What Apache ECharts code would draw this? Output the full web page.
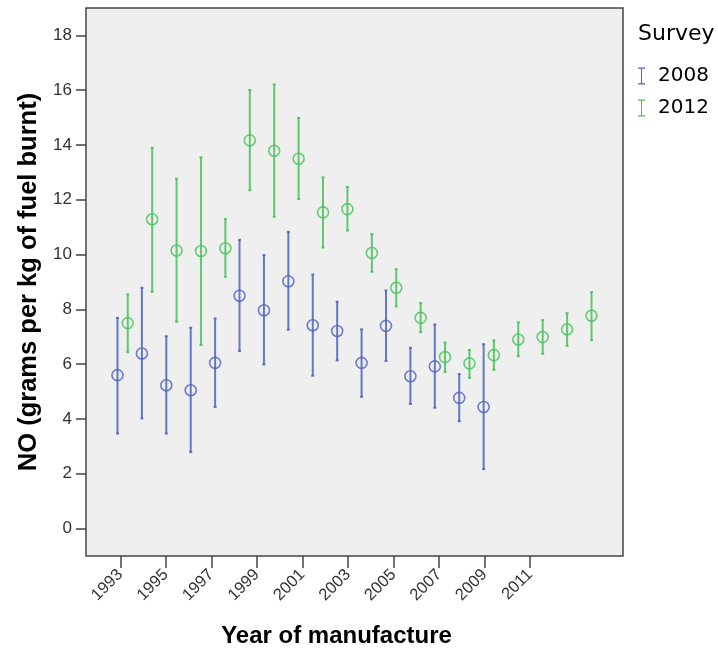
<!DOCTYPE html>
<html>
<head>
<meta charset="utf-8">
<script src="https://cdn.jsdelivr.net/npm/echarts@6/dist/echarts.min.js"></script>
<style>html,body{margin:0;padding:0;background:#fff;}#chart{width:718px;height:653px;}</style>
</head>
<body>
<div id="chart"></div>
<script>
// ---- data ----
const years2008 = [1993,1994,1995,1996,1997,1998,1999,2000,2001,2002,2003,2004,2005,2006,2007,2008];
const mean2008  = [5.60,6.39,5.23,5.05,6.05,8.50,7.97,9.03,7.42,7.21,6.05,7.40,5.56,5.92,4.77,4.44];
const low2008   = [3.47,4.02,3.47,2.79,4.44,6.48,5.99,7.26,5.58,6.14,4.81,6.12,4.55,4.41,3.92,2.17];
const high2008  = [7.69,8.79,7.02,7.33,7.67,10.54,9.98,10.83,9.27,8.28,7.27,8.69,6.60,7.45,5.64,6.73];

const years2012 = [1993,1994,1995,1996,1997,1998,1999,2000,2001,2002,2003,2004,2005,2006,2007,2008,2009,2010,2011,2012];
const mean2012  = [7.50,11.29,10.15,10.13,10.23,14.17,13.79,13.50,11.54,11.66,10.06,8.79,7.69,6.26,6.03,6.33,6.90,6.99,7.27,7.77];
const low2012   = [6.44,8.64,7.55,6.70,9.19,12.35,11.38,12.03,10.26,10.88,9.37,8.11,7.17,5.72,5.50,5.79,6.29,6.38,6.67,6.88];
const high2012  = [8.55,13.90,12.77,13.55,11.30,16.01,16.21,14.99,12.82,12.47,10.75,9.47,8.23,6.79,6.52,6.87,7.53,7.61,7.86,8.63];

const xTickLabels = [1993,1995,1997,1999,2001,2003,2005,2007,2009,2011];
const yTickLabels = [0,2,4,6,8,10,12,14,16,18];
const seriesNames = ['2008','2012'];

// ---- styling ----
const BLUE = '#4b63be';
const GREEN = '#45c256';
const DODGE = 0.21;

function pts(years, means, off) { return years.map((y, i) => [y + off, means[i]]); }
function bars(years, lo, hi, off) { return years.map((y, i) => [y + off, lo[i], hi[i]]); }

function renderErr(params, api) {
  const x = api.value(0);
  const p1 = api.coord([x, api.value(1)]);
  const p2 = api.coord([x, api.value(2)]);
  const c = api.visual('color');
  const st = { stroke: c, lineWidth: 2, opacity: 0.85 };
  return {
    type: 'group',
    children: [
      { type: 'line', shape: { x1: p1[0], y1: p1[1], x2: p2[0], y2: p2[1] }, style: st },
      { type: 'line', shape: { x1: p1[0] - 1.5, y1: p1[1], x2: p1[0] + 1.5, y2: p1[1] }, style: st },
      { type: 'line', shape: { x1: p2[0] - 1.5, y1: p2[1], x2: p2[0] + 1.5, y2: p2[1] }, style: st }
    ]
  };
}

const chart = echarts.init(document.getElementById('chart'), null, { renderer: 'canvas' });
const font = '"Liberation Sans", Arial, sans-serif';
const legendIcon = 'path://M0,0H7V1.2H4V15.8H7V17H0V15.8H3V1.2H0Z';

chart.setOption({
  animation: false,
  backgroundColor: '#fff',
  title: {
    text: 'Survey', left: 633, top: 18,
    textStyle: { fontFamily: '"DejaVu Sans", sans-serif', fontSize: 22, fontWeight: 'normal', color: '#000' }
  },
  legend: {
    orient: 'vertical', left: 633, top: 61, itemGap: 12,
    itemWidth: 7, itemHeight: 17, icon: legendIcon,
    textStyle: { fontFamily: '"DejaVu Sans", sans-serif', fontSize: 20, color: '#000', padding: [0, 0, 0, 8] },
    data: [
      { name: seriesNames[0], itemStyle: { color: BLUE } },
      { name: seriesNames[1], itemStyle: { color: GREEN } }
    ]
  },
  grid: {
    left: 86, top: 8, right: 95, bottom: 97, show: true,
    backgroundColor: '#efefef', borderColor: '#444', borderWidth: 1.5
  },
  xAxis: [
    { type: 'value', min: 1991.5, max: 2013.5, show: false },
    {
      type: 'value', min: 1991.49, max: 2015.09, position: 'bottom',
      axisLine: { show: false },
      splitLine: { show: false },
      axisTick: { show: true, length: 12, customValues: xTickLabels, lineStyle: { color: '#444', width: 1.5 } },
      axisLabel: { customValues: xTickLabels, rotate: 45, margin: 16, fontFamily: font, fontSize: 16.5, color: '#333',
        formatter: v => String(v) },
      name: 'Year of manufacture', nameLocation: 'middle', nameGap: 68,
      nameTextStyle: { fontFamily: font, fontSize: 24, fontWeight: 'bold', color: '#000', padding: [0, 36, 0, 0] }
    }
  ],
  yAxis: {
    type: 'value', min: -1, max: 19,
    axisLine: { show: false },
    splitLine: { show: false },
    axisTick: { show: true, length: 10, customValues: yTickLabels, lineStyle: { color: '#444', width: 1.5 } },
    axisLabel: { customValues: yTickLabels, margin: 14, fontFamily: font, fontSize: 17, color: '#333' },
    name: 'NO (grams per kg of fuel burnt)', nameLocation: 'middle', nameGap: 44,
    nameTextStyle: { fontFamily: font, fontSize: 25.5, fontWeight: 'bold', color: '#000' }
  },
  series: [
    { name: seriesNames[0], type: 'custom', xAxisIndex: 0, renderItem: renderErr, itemStyle: { color: BLUE },
      encode: { x: 0, y: [1, 2] }, data: bars(years2008, low2008, high2008, -DODGE), silent: true },
    { name: seriesNames[0], type: 'scatter', xAxisIndex: 0, symbol: 'circle', symbolSize: 11,
      itemStyle: { color: 'rgba(0,0,0,0)', borderColor: BLUE, borderWidth: 1.6 },
      data: pts(years2008, mean2008, -DODGE), silent: true },
    { name: seriesNames[1], type: 'custom', xAxisIndex: 0, renderItem: renderErr, itemStyle: { color: GREEN },
      encode: { x: 0, y: [1, 2] }, data: bars(years2012, low2012, high2012, DODGE), silent: true },
    { name: seriesNames[1], type: 'scatter', xAxisIndex: 0, symbol: 'circle', symbolSize: 11,
      itemStyle: { color: 'rgba(0,0,0,0)', borderColor: GREEN, borderWidth: 1.6 },
      data: pts(years2012, mean2012, DODGE), silent: true }
  ]
});
</script>
</body>
</html>
